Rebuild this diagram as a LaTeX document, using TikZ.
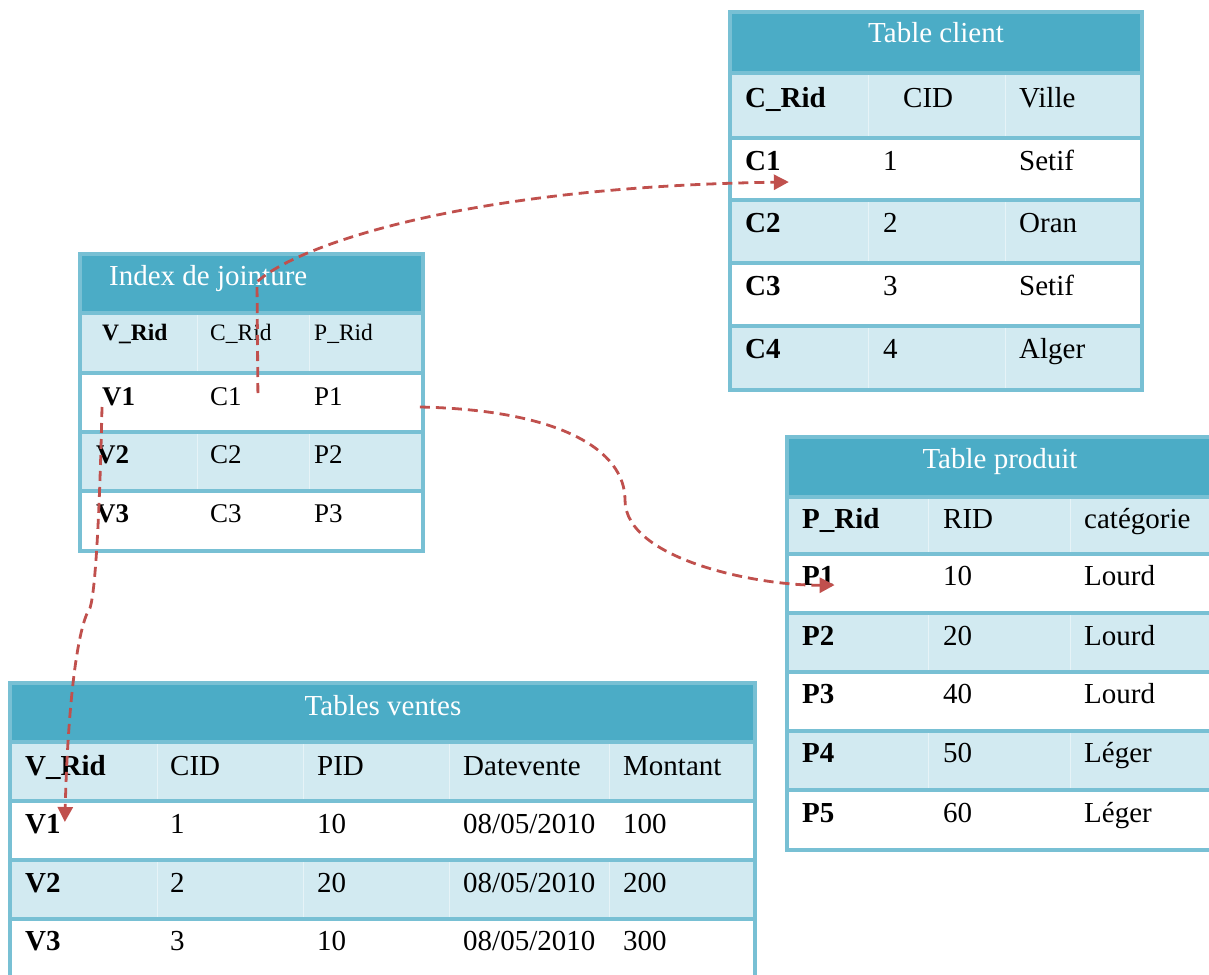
\documentclass[tikz,border=0pt]{standalone}
\usepackage{fontspec}
\setmainfont{Liberation Serif}
\usetikzlibrary{arrows.meta}
\definecolor{headfill}{HTML}{4BACC6}
\definecolor{bandfill}{HTML}{D2EAF1}
\definecolor{rulecol}{HTML}{78C0D4}
\definecolor{linkcol}{HTML}{C0504D}

\begin{document}
\begin{tikzpicture}[x=1pt,y=-1pt,
  cell/.style={anchor=base west, inner sep=0pt, font=\fontsize{29}{34}\selectfont},
  keycell/.style={cell, font=\fontsize{29}{34}\selectfont\bfseries},
  tabletitle/.style={anchor=base, inner sep=0pt, text=white, font=\fontsize{29}{34}\selectfont},
  ixhead/.style={cell, font=\fontsize{23.5}{28}\selectfont},
  ixkeyhead/.style={cell, font=\fontsize{23.5}{28}\selectfont\bfseries},
  ixcell/.style={cell, font=\fontsize{27}{32}\selectfont},
  ixkey/.style={cell, font=\fontsize{27}{32}\selectfont\bfseries},
  rulebox/.style={draw=rulecol, line width=3.2pt},
  colsep/.style={draw=white, draw opacity=0.45, line width=1pt},
  joinlink/.style={draw=linkcol, line width=2.8pt, dash pattern=on 10pt off 6pt,
    -{Triangle[length=15pt,width=15pt]}},
]
\useasboundingbox (0,0) rectangle (1209,974);
\clip (0,0) rectangle (1209,974);

% ---------- Table client ----------
\fill[headfill] (730,12) rectangle (1142,73);
\foreach \a/\b in {73/138,200/263,326/390} \fill[bandfill] (730,\a) rectangle (1142,\b);
\foreach \x in {868,1005} \draw[colsep] (\x,74) -- (\x,389);
\foreach \y in {73,138,200,263,326} \draw[rulebox] (730,\y) -- (1142,\y);
\draw[rulebox] (730,12) rectangle (1142,390);
\node[tabletitle] (cl-title) at (936,43) {Table client};
\node[keycell] (cl-h1) at (745,107) {C\_Rid};
\node[cell] (cl-h2) at (903,107) {CID};
\node[cell] (cl-h3) at (1019,107) {Ville};
\foreach \k/\n/\v/\y in {1/1/Setif/170, 2/2/Oran/232, 3/3/Setif/295, 4/4/Alger/358}{
  \node[keycell] (cl-c\k) at (745,\y) {C\k};
  \node[cell] (cl-n\k) at (883,\y) {\n};
  \node[cell] (cl-v\k) at (1019,\y) {\v};
}

% ---------- Index de jointure ----------
\fill[headfill] (80,254) rectangle (423,313);
\foreach \a/\b in {313/373,432/491} \fill[bandfill] (80,\a) rectangle (423,\b);
\foreach \x in {197,309} \draw[colsep] (\x,314) -- (\x,550);
\foreach \y in {313,373,432,491} \draw[rulebox] (80,\y) -- (423,\y);
\draw[rulebox] (80,254) rectangle (423,551);
\node[tabletitle, anchor=base west] (ix-title) at (109,285) {Index de jointure};
\node[ixkeyhead] (ix-h1) at (102,340) {V\_Rid};
\node[ixhead] (ix-h2) at (210,340) {C\_Rid};
\node[ixhead] (ix-h3) at (314,340) {P\_Rid};
\node[ixkey] (ix-v1) at (102,405) {V1};
\node[ixcell] (ix-c1) at (210,405) {C1};
\node[ixcell] (ix-p1) at (314,405) {P1};
\node[ixkey] (ix-v2) at (96,463) {V2};
\node[ixcell] (ix-c2) at (210,463) {C2};
\node[ixcell] (ix-p2) at (314,463) {P2};
\node[ixkey] (ix-v3) at (96,522) {V3};
\node[ixcell] (ix-c3) at (210,522) {C3};
\node[ixcell] (ix-p3) at (314,522) {P3};

% ---------- Table produit ----------
\fill[headfill] (787,437) rectangle (1215,497);
\foreach \a/\b in {497/554,613/672,731/790} \fill[bandfill] (787,\a) rectangle (1215,\b);
\foreach \x in {928,1070} \draw[colsep] (\x,498) -- (\x,849);
\foreach \y in {497,554,613,672,731,790} \draw[rulebox] (787,\y) -- (1215,\y);
\draw[rulebox] (787,437) rectangle (1215,850);
\node[tabletitle] (pr-title) at (1000,468) {Table produit};
\node[keycell] (pr-h1) at (802,528) {P\_Rid};
\node[cell] (pr-h2) at (943,528) {RID};
\node[cell] (pr-h3) at (1084,528) {catégorie};
\foreach \k/\n/\v/\y in {1/10/Lourd/585, 2/20/Lourd/645, 3/40/Lourd/703, 4/50/Léger/762, 5/60/Léger/822}{
  \node[keycell] (pr-p\k) at (802,\y) {P\k};
  \node[cell] (pr-n\k) at (943,\y) {\n};
  \node[cell] (pr-v\k) at (1084,\y) {\v};
}

% ---------- Tables ventes ----------
\fill[headfill] (10,683) rectangle (755,742);
\foreach \a/\b in {742/801,860/919} \fill[bandfill] (10,\a) rectangle (755,\b);
\foreach \x in {157,303,449,609} \draw[colsep] (\x,743) -- (\x,990);
\foreach \y in {742,801,860,919} \draw[rulebox] (10,\y) -- (755,\y);
\draw[rulebox] (10,683) rectangle (755,995);
\node[tabletitle] (ve-title) at (383,715) {Tables ventes};
\node[keycell] (ve-h1) at (25,775) {V\_Rid};
\node[cell] (ve-h2) at (170,775) {CID};
\node[cell] (ve-h3) at (317,775) {PID};
\node[cell] (ve-h4) at (463,775) {Datevente};
\node[cell] (ve-h5) at (623,775) {Montant};
\foreach \k/\c/\p/\m/\y in {1/1/10/100/833, 2/2/20/200/892, 3/3/10/300/950}{
  \node[keycell] (ve-v\k) at (25,\y) {V\k};
  \node[cell] (ve-c\k) at (170,\y) {\c};
  \node[cell] (ve-p\k) at (317,\y) {\p};
  \node[cell] (ve-d\k) at (463,\y) {08/05/2010};
  \node[cell] (ve-m\k) at (623,\y) {\m};
}

% ---------- join links ----------
\coordinate (src-c) at ([xshift=16pt,yshift=12pt]ix-c1.base east);
\coordinate (dst-c) at ([xshift=8pt,yshift=-12pt]cl-c1.base east);
\coordinate (src-p) at ([xshift=77pt,yshift=-2pt]ix-p1.base east);
\coordinate (dst-p) at (pr-p1.base east);
\coordinate (src-v) at ([yshift=-2pt]ix-v1.base west);
\coordinate (dst-v) at ([xshift=4pt,yshift=11pt]ve-v1.base east);

\draw[joinlink] (src-c) -- (257,282) .. controls (290,250) and (450,187) .. (dst-c);
\draw[joinlink] (src-p) .. controls (560,410) and (625,450) .. (625,500)
  .. controls (625,560) and (760,586) .. (dst-p);
\draw[joinlink] (src-v) .. controls (100,500) and (96,590) .. (90,608)
  .. controls (78,625) and (68,700) .. (dst-v);
\end{tikzpicture}
\end{document}
